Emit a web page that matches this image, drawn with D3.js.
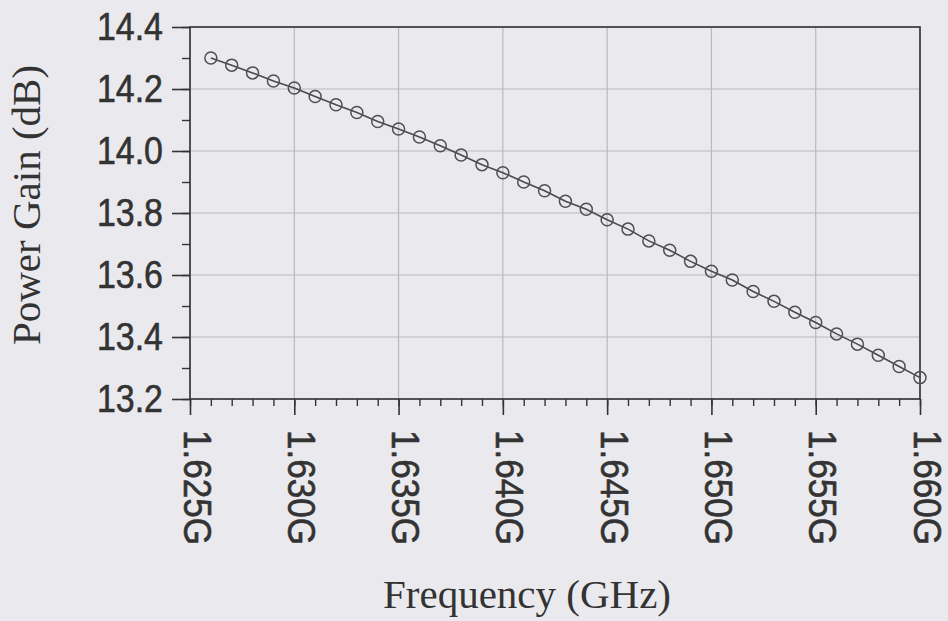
<!DOCTYPE html>
<html>
<head>
<meta charset="utf-8">
<script src="https://cdn.jsdelivr.net/npm/d3@7"></script>
<style>
  body { margin: 0; background: #eaeaee; }
  svg { display: block; }
</style>
</head>
<body>
<div class="chart"></div>
<script>
// frequency (GHz) and power gain (dB)
const freq = [1.626, 1.627, 1.628, 1.629, 1.630, 1.631, 1.632, 1.633, 1.634, 1.635,
              1.636, 1.637, 1.638, 1.639, 1.640, 1.641, 1.642, 1.643, 1.644, 1.645,
              1.646, 1.647, 1.648, 1.649, 1.650, 1.651, 1.652, 1.653, 1.654, 1.655,
              1.656, 1.657, 1.658, 1.659, 1.660];
const gain = [14.300, 14.277, 14.252, 14.226, 14.203, 14.176, 14.149, 14.124, 14.095, 14.071,
              14.045, 14.017, 13.987, 13.956, 13.930, 13.900, 13.872, 13.838, 13.812, 13.778,
              13.748, 13.710, 13.680, 13.644, 13.612, 13.584, 13.547, 13.515, 13.480, 13.447,
              13.410, 13.377, 13.341, 13.305, 13.269];

const xTicks = [1.625, 1.630, 1.635, 1.640, 1.645, 1.650, 1.655, 1.660];
const xTickLabels = ['1.625G', '1.630G', '1.635G', '1.640G', '1.645G', '1.650G', '1.655G', '1.660G'];
const yTicks = [13.2, 13.4, 13.6, 13.8, 14.0, 14.2, 14.4];
const yTickLabels = ['13.2', '13.4', '13.6', '13.8', '14.0', '14.2', '14.4'];

const width = 948, height = 621;
const pLeft = 190, pRight = 920, pTop = 27, pBottom = 399;
const ink = '#333';

const svg = d3.select('.chart').append('svg')
    .attr('width', width).attr('height', height);

svg.append('rect').attr('width', width).attr('height', height).attr('fill', '#eaeaee');

const x = d3.scaleLinear().domain([1.625, 1.660]).range([pLeft, pRight]);
const y = d3.scaleLinear().domain([13.2, 14.4]).range([pBottom, pTop]);

// grid
svg.append('g').selectAll('line')
    .data(xTicks).enter().append('line')
    .attr('x1', d => x(d)).attr('x2', d => x(d))
    .attr('y1', pTop).attr('y2', pBottom)
    .attr('stroke', '#b9b9bd').attr('stroke-width', 1.2);
svg.append('g').selectAll('line')
    .data(yTicks).enter().append('line')
    .attr('x1', pLeft).attr('x2', pRight)
    .attr('y1', d => y(d)).attr('y2', d => y(d))
    .attr('stroke', '#b9b9bd').attr('stroke-width', 1.2);

// frame
svg.append('rect')
    .attr('x', pLeft).attr('y', pTop)
    .attr('width', pRight - pLeft).attr('height', pBottom - pTop)
    .attr('fill', 'none').attr('stroke', ink).attr('stroke-width', 1.6);

// minor ticks
const xMinor = d3.range(0, 36).map(i => 1.625 + i * 0.001);
const yMinor = d3.range(0, 13).map(i => 13.2 + i * 0.1);

svg.append('g')
    .attr('transform', 'translate(0,' + pBottom + ')')
    .call(d3.axisBottom(x).tickValues(xMinor).tickSize(7).tickSizeOuter(0).tickFormat(''))
    .call(g => g.select('.domain').remove())
    .call(g => g.selectAll('.tick line').attr('stroke', ink).attr('stroke-width', 1.4));
svg.append('g')
    .attr('transform', 'translate(' + pLeft + ',0)')
    .call(d3.axisLeft(y).tickValues(yMinor).tickSize(8).tickSizeOuter(0).tickFormat(''))
    .call(g => g.select('.domain').remove())
    .call(g => g.selectAll('.tick line').attr('stroke', ink).attr('stroke-width', 1.4));

// major ticks + labels
const xAxis = svg.append('g')
    .attr('transform', 'translate(0,' + pBottom + ')')
    .call(d3.axisBottom(x).tickValues(xTicks).tickSize(16).tickSizeOuter(0)
        .tickFormat((d, i) => xTickLabels[i]));
xAxis.select('.domain').remove();
xAxis.selectAll('.tick line').attr('stroke', ink).attr('stroke-width', 1.6);
xAxis.selectAll('.tick text')
    .attr('x', null).attr('y', null).attr('dy', null)
    .attr('text-anchor', 'start')
    .attr('transform', 'translate(-7,31) rotate(90) scale(0.9,1)')
    .attr('font-family', '"Liberation Sans", Arial, sans-serif')
    .attr('font-size', 39)
    .attr('fill', ink).attr('stroke', ink).attr('stroke-width', 0.6);

const yAxis = svg.append('g')
    .attr('transform', 'translate(' + pLeft + ',0)')
    .call(d3.axisLeft(y).tickValues(yTicks).tickSize(18).tickSizeOuter(0)
        .tickFormat((d, i) => yTickLabels[i]));
yAxis.select('.domain').remove();
yAxis.selectAll('.tick line').attr('stroke', ink).attr('stroke-width', 1.6);
yAxis.selectAll('.tick text')
    .attr('x', null).attr('y', null).attr('dy', null)
    .attr('text-anchor', 'end')
    .attr('transform', 'translate(-27,12) scale(0.87,1)')
    .attr('font-family', '"Liberation Sans", Arial, sans-serif')
    .attr('font-size', 39)
    .attr('fill', ink).attr('stroke', ink).attr('stroke-width', 0.6);

// curve
const pts = freq.map((f, i) => [f, gain[i]]);
svg.append('path')
    .datum(pts)
    .attr('d', d3.line().x(d => x(d[0])).y(d => y(d[1])))
    .attr('fill', 'none').attr('stroke', '#4a4a4a').attr('stroke-width', 1.6);

svg.append('g').selectAll('circle')
    .data(pts).enter().append('circle')
    .attr('cx', d => x(d[0])).attr('cy', d => y(d[1]))
    .attr('r', 6)
    .attr('fill', 'none').attr('stroke', '#4f4f4f').attr('stroke-width', 1.5);

// axis titles
svg.append('text')
    .attr('x', 527).attr('y', 608)
    .attr('text-anchor', 'middle')
    .attr('font-family', '"Liberation Serif", "Times New Roman", serif')
    .attr('font-size', 41)
    .attr('fill', ink)
    .text('Frequency (GHz)');

svg.append('text')
    .attr('transform', 'translate(40,205) rotate(-90)')
    .attr('text-anchor', 'middle')
    .attr('font-family', '"Liberation Serif", "Times New Roman", serif')
    .attr('font-size', 41)
    .attr('fill', ink)
    .text('Power Gain (dB)');
</script>
</body>
</html>
